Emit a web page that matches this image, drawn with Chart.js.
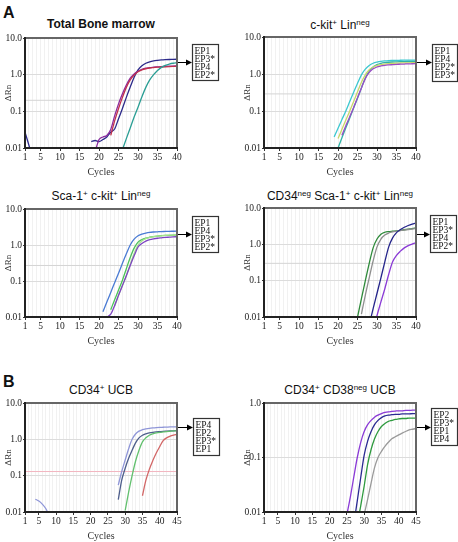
<!DOCTYPE html>
<html>
<head>
<meta charset="utf-8">
<script src="https://cdn.jsdelivr.net/npm/chart.js@4.4.0/dist/chart.umd.min.js"></script>
<style>
  body { margin: 0; background: #fff; }
  #wrap { position: relative; width: 458px; height: 542px; overflow: hidden; font-family: "Liberation Sans", Arial, sans-serif; color: #111; }
  canvas { position: absolute; }
  .ttl { position: absolute; font-size: 12px; line-height: 1; white-space: nowrap; transform: translateX(-50%); }
  .ttl sup { font-size: 8px; vertical-align: 4px; line-height: 0; }
  .lbl { position: absolute; font-size: 16px; font-weight: bold; line-height: 1; }
</style>
</head>
<body>
<div id="wrap">
  <div class="lbl" style="left:3px;top:5px">A</div>
  <div class="lbl" style="left:3px;top:374px">B</div>

  <div class="ttl" style="left:101px;top:18px;font-weight:bold">Total Bone marrow</div>
  <div class="ttl" style="left:340px;top:19px">c-kit<sup>+</sup> Lin<sup>neg</sup></div>
  <div class="ttl" style="left:101px;top:190px">Sca-1<sup>+</sup> c-kit<sup>+</sup> Lin<sup>neg</sup></div>
  <div class="ttl" style="left:340px;top:190px">CD34<sup>neg</sup> Sca-1<sup>+</sup> c-kit<sup>+</sup> Lin<sup>neg</sup></div>
  <div class="ttl" style="left:101px;top:384px">CD34<sup>+</sup> UCB</div>
  <div class="ttl" style="left:340px;top:384px">CD34<sup>+</sup> CD38<sup>neg</sup> UCB</div>

  <canvas id="cBm"  width="229" height="151" style="left:0;top:30px"></canvas>
  <canvas id="cCk"  width="229" height="152" style="left:229px;top:29px"></canvas>
  <canvas id="cSk"  width="229" height="149" style="left:0;top:201px"></canvas>
  <canvas id="cCd"  width="229" height="150" style="left:229px;top:200px"></canvas>
  <canvas id="cUcb" width="229" height="150" style="left:0;top:395px"></canvas>
  <canvas id="cC38" width="229" height="150" style="left:229px;top:395px"></canvas>
</div>

<script>
// tick labels
const xTicks40 = [1, 5, 10, 15, 20, 25, 30, 35, 40];
const xTicks45 = [1, 5, 10, 15, 20, 25, 30, 35, 40, 45];
const yTicks4 = [0.01, 0.1, 1, 10];
const yLabels4 = ['0.01', '0.1', '1.0', '10.0'];
const yTicks3 = [0.01, 0.1, 1];
const yLabels3 = ['0.01', '0.1', '1.0'];

// Total bone marrow  (first cycle of each curve, then ΔRn per cycle)
const bmLegend = ['EP1', 'EP3*', 'EP4', 'EP2*'];
const bmNavyEarly = [0.027, 0.012, 0.005];
const bmNavy = [0.015, 0.016, 0.015, 0.017, 0.02, 0.027, 0.033, 0.063, 0.12, 0.24, 0.46, 0.85, 1.35, 1.75, 2.05, 2.25, 2.38, 2.46, 2.52, 2.56, 2.59, 2.61, 2.63];
const bmPurple = [0.008, 0.017, 0.02, 0.022, 0.032, 0.075, 0.16, 0.3, 0.52, 0.8, 1.05, 1.25, 1.4, 1.5, 1.55, 1.6, 1.63, 1.66, 1.68, 1.7, 1.72, 1.74];
const bmRed = [0.022, 0.055, 0.12, 0.24, 0.45, 0.72, 0.98, 1.2, 1.35, 1.45, 1.52, 1.56, 1.6, 1.62, 1.64, 1.66, 1.68, 1.7];
const bmTeal = [0.009, 0.018, 0.035, 0.07, 0.13, 0.25, 0.45, 0.72, 1.0, 1.3, 1.58, 1.8, 1.95, 2.05, 2.1];
const bmStarts = { navyEarly: 1, navy: 18, purple: 19, red: 23, teal: 26 };
const bmThreshold = 0.2;

// c-kit+ Lin-neg
const ckLegend = ['EP1', 'EP4', 'EP2*', 'EP3*'];
const ckCyan = [0.02, 0.034, 0.059, 0.1, 0.18, 0.32, 0.56, 0.95, 1.35, 1.7, 1.95, 2.1, 2.2, 2.26, 2.3, 2.32, 2.34, 2.35, 2.36, 2.37, 2.38, 2.38];
const ckTeal = [0.005, 0.01, 0.019, 0.035, 0.065, 0.12, 0.22, 0.42, 0.78, 1.2, 1.55, 1.8, 1.95, 2.03, 2.08, 2.11, 2.13, 2.15, 2.17, 2.18, 2.19, 2.2];
const ckYellow = [0.018, 0.032, 0.057, 0.1, 0.18, 0.33, 0.6, 0.95, 1.3, 1.55, 1.7, 1.8, 1.86, 1.9, 1.93, 1.96, 1.98, 2.0, 2.01, 2.02, 2.03];
const ckPurple = [0.022, 0.04, 0.07, 0.125, 0.23, 0.42, 0.75, 1.1, 1.38, 1.55, 1.65, 1.72, 1.76, 1.79, 1.82, 1.84, 1.86, 1.88, 1.89, 1.9];
const ckStarts = { cyan: 19, teal: 19, yellow: 20, purple: 21 };
const ckThreshold = 0.29;

// Sca-1+ c-kit+ Lin-neg
const skLegend = ['EP1', 'EP4', 'EP3*', 'EP2*'];
const skBlue = [0.014, 0.026, 0.048, 0.09, 0.165, 0.31, 0.57, 1.0, 1.45, 1.8, 2.0, 2.15, 2.25, 2.3, 2.33, 2.36, 2.38, 2.4, 2.41, 2.42];
const skGreen = [0.016, 0.03, 0.056, 0.105, 0.22, 0.45, 0.82, 1.2, 1.42, 1.56, 1.65, 1.72, 1.77, 1.81, 1.84, 1.86, 1.88, 1.9];
const skLight = [0.02, 0.04, 0.075, 0.14, 0.29, 0.58, 1.0, 1.3, 1.5, 1.62, 1.7, 1.76, 1.8, 1.84, 1.87, 1.89, 1.91];
const skPurple = [0.01, 0.012, 0.021, 0.04, 0.075, 0.14, 0.27, 0.5, 0.88, 1.1, 1.28, 1.4, 1.48, 1.54, 1.58, 1.62, 1.65, 1.68, 1.7];
const skStarts = { blue: 21, green: 23, light: 24, purple: 22 };
const skThreshold = 0.27;

// CD34-neg Sca-1+ c-kit+ Lin-neg
const cdLegend = ['EP1', 'EP3*', 'EP4', 'EP2*'];
const cdGreen = [0.01, 0.032, 0.1, 0.3, 0.8, 1.4, 1.9, 2.15, 2.25, 2.3, 2.35, 2.42, 2.52, 2.62, 2.72, 2.85];
const cdGray = [0.012, 0.04, 0.12, 0.35, 0.85, 1.4, 1.8, 2.05, 2.2, 2.3, 2.4, 2.48, 2.56, 2.64, 2.72];
const cdNavy = [0.006, 0.017, 0.045, 0.12, 0.33, 0.85, 1.5, 2.1, 2.55, 2.95, 3.3, 3.6, 3.85];
const cdPurple = [0.004, 0.011, 0.026, 0.06, 0.15, 0.33, 0.5, 0.65, 0.8, 0.92, 1.02, 1.1];
const cdStarts = { green: 25, gray: 26, navy: 28, purple: 29 };
const cdThreshold = 0.3;

// CD34+ UCB
const ucbLegend = ['EP4', 'EP2', 'EP3*', 'EP1'];
const ucbLavEarly = [0.0225, 0.02, 0.0165, 0.0125, 0.008];
const ucbLav = [0.055, 0.13, 0.27, 0.55, 1.0, 1.4, 1.68, 1.84, 1.94, 2.01, 2.06, 2.1, 2.13, 2.15, 2.17, 2.19, 2.2, 2.21];
const ucbSlate = [0.022, 0.075, 0.16, 0.3, 0.5, 0.8, 1.1, 1.3, 1.42, 1.5, 1.56, 1.6, 1.63, 1.66, 1.68, 1.7, 1.72, 1.73];
const ucbGreen = [0.011, 0.035, 0.1, 0.25, 0.5, 0.85, 1.1, 1.3, 1.42, 1.5, 1.56, 1.6, 1.64, 1.67, 1.7, 1.72];
const ucbRed = [0.028, 0.075, 0.15, 0.26, 0.42, 0.63, 0.92, 1.1, 1.22, 1.31, 1.38];
const ucbStarts = { lavEarly: 4, lav: 28, slate: 28, green: 30, red: 35 };
const ucbThreshold = 0.13;

// CD34+ CD38-neg UCB
const c38Legend = ['EP2', 'EP3*', 'EP1', 'EP4'];
const c38Purple = [0.009, 0.019, 0.044, 0.1, 0.19, 0.3, 0.4, 0.48, 0.55, 0.6, 0.64, 0.67, 0.69, 0.7, 0.71, 0.72, 0.72, 0.73, 0.73, 0.74, 0.74];
const c38Navy = [0.006, 0.016, 0.043, 0.11, 0.2, 0.3, 0.4, 0.48, 0.54, 0.58, 0.6, 0.61, 0.62, 0.62, 0.63, 0.63, 0.63, 0.64, 0.64];
const c38Green = [0.006, 0.013, 0.03, 0.075, 0.14, 0.22, 0.3, 0.37, 0.42, 0.46, 0.48, 0.5, 0.51, 0.52, 0.52, 0.53, 0.53, 0.53];
const c38Gray = [0.009, 0.017, 0.034, 0.065, 0.1, 0.13, 0.16, 0.19, 0.22, 0.24, 0.26, 0.28, 0.3, 0.32, 0.33, 0.34];
const c38Starts = { purple: 25, navy: 27, green: 28, gray: 30 };


const curve = (start, values, color) => ({
    data: values.map((v, i) => ({ x: start + i, y: v })),
    borderColor: color,
    borderWidth: 1.3,
    pointRadius: 0,
    cubicInterpolationMode: 'monotone',
    fill: false
});

const threshold = (value, xMax, color) => ({
    data: [{ x: 1, y: value }, { x: xMax, y: value }],
    borderColor: color,
    borderWidth: 1,
    pointRadius: 0,
    order: 10
});

// frame round the plot + the EP box with its arrow
const framePlugin = {
    id: 'frame',
    afterDatasetsDraw(chart, args, opts) {
        const { ctx, chartArea: a } = chart;
        ctx.save();
        ctx.lineWidth = 2;
        ctx.strokeStyle = '#666';
        ctx.strokeRect(a.left, a.top, a.right - a.left, a.bottom - a.top);
        ctx.strokeStyle = '#222';
        ctx.beginPath();
        ctx.moveTo(a.left, a.top - 1);
        ctx.lineTo(a.left, a.bottom);
        ctx.lineTo(a.right + 1, a.bottom);
        ctx.stroke();

        const bx = Math.round(a.right + opts.dx), by = Math.round(a.top + opts.dy);
        ctx.lineWidth = 1.2;
        ctx.strokeStyle = '#333';
        ctx.strokeRect(bx + 0.5, by + 0.5, opts.w, opts.h);
        ctx.fillStyle = '#111';
        ctx.font = '9.5px "Liberation Serif"';
        opts.labels.forEach((t, i) => ctx.fillText(t, bx + 2.5, by + 10 + i * 8));

        const ay = Math.round(a.top + opts.ay) + 0.5;
        ctx.lineWidth = 1;
        ctx.strokeStyle = '#000';
        ctx.beginPath();
        ctx.moveTo(a.right + 1, ay);
        ctx.lineTo(bx - 4, ay);
        ctx.stroke();
        ctx.fillStyle = '#000';
        ctx.beginPath();
        ctx.moveTo(bx, ay);
        ctx.lineTo(bx - 6, ay - 3);
        ctx.lineTo(bx - 6, ay + 3);
        ctx.closePath();
        ctx.fill();
        ctx.restore();
    }
};

const makeChart = (id, cfg) => {
    const xMax = cfg.xTicks[cfg.xTicks.length - 1];
    const yMin = cfg.yTicks[0], yMax = cfg.yTicks[cfg.yTicks.length - 1];
    const everyCycle = [];
    for (let c = 1; c <= xMax; c++) everyCycle.push(c);

    new Chart(document.getElementById(id), {
        type: 'line',
        data: { datasets: cfg.datasets },
        options: {
            responsive: false,
            animation: false,
            events: [],
            layout: { padding: { left: cfg.padLeft, right: cfg.padRight, top: 8, bottom: 0 } },
            plugins: {
                legend: { display: false },
                tooltip: { enabled: false },
                frame: cfg.frame
            },
            scales: {
                x: {
                    type: 'linear',
                    min: 1,
                    max: xMax,
                    afterBuildTicks: s => { s.ticks = everyCycle.map(v => ({ value: v })); },
                    afterFit: s => { s.height = 33; },
                    ticks: {
                        autoSkip: false,
                        maxRotation: 0,
                        padding: 1,
                        color: '#222',
                        font: { family: 'Liberation Serif', size: 9.5 },
                        callback: v => cfg.xTicks.includes(v) ? String(v) : ''
                    },
                    grid: {
                        color: '#f1f1f1',
                        tickLength: 3,
                        tickColor: c => cfg.xTicks.includes(c.tick.value) ? '#333' : 'rgba(0,0,0,0)'
                    },
                    border: { display: false },
                    title: {
                        display: true,
                        text: 'Cycles',
                        color: '#333',
                        font: { family: 'Liberation Serif', size: 10 },
                        padding: { top: 0, bottom: 3 }
                    }
                },
                y: {
                    type: 'logarithmic',
                    min: yMin,
                    max: yMax,
                    afterBuildTicks: s => { s.ticks = cfg.yTicks.map(v => ({ value: v })); },
                    afterFit: s => { s.width = 25; },
                    ticks: {
                        padding: 1,
                        color: '#222',
                        font: { family: 'Liberation Serif', size: 9.5 },
                        callback: (v, i) => cfg.yLabels[i]
                    },
                    grid: {
                        color: c => (c.tick.value > yMin && c.tick.value < yMax) ? '#dcdcdc' : 'rgba(0,0,0,0)',
                        tickLength: 2,
                        tickColor: '#333'
                    },
                    border: { display: false },
                    title: {
                        display: true,
                        text: 'ΔRn',
                        color: '#333',
                        font: { family: 'Liberation Serif', size: 9 },
                        padding: { top: 3, bottom: 0 }
                    }
                }
            }
        },
        plugins: [framePlugin]
    });
};

makeChart('cBm', {
    xTicks: xTicks40, yTicks: yTicks4, yLabels: yLabels4, padLeft: 0, padRight: 52,
    frame: { labels: bmLegend, dx: 15, dy: 6, w: 26, h: 36, ay: 24 },
    datasets: [
        threshold(bmThreshold, 40, '#d4d4d4'),
        curve(bmStarts.navyEarly, bmNavyEarly, '#2c2a8a'),
        curve(bmStarts.teal, bmTeal, '#2a9e94'),
        curve(bmStarts.red, bmRed, '#c0304c'),
        curve(bmStarts.purple, bmPurple, '#8a2c9e'),
        curve(bmStarts.navy, bmNavy, '#2c2a8a')
    ]
});

makeChart('cCk', {
    xTicks: xTicks40, yTicks: yTicks4, yLabels: yLabels4, padLeft: 10, padRight: 42,
    frame: { labels: ckLegend, dx: 16, dy: 7, w: 25, h: 37, ay: 25 },
    datasets: [
        threshold(ckThreshold, 40, '#d4d4d4'),
        curve(ckStarts.purple, ckPurple, '#9a4cc4'),
        curve(ckStarts.yellow, ckYellow, '#c9d66a'),
        curve(ckStarts.teal, ckTeal, '#2fb3a6'),
        curve(ckStarts.cyan, ckCyan, '#3cc8d0')
    ]
});

makeChart('cSk', {
    xTicks: xTicks40, yTicks: yTicks4, yLabels: yLabels4, padLeft: 0, padRight: 52,
    frame: { labels: skLegend, dx: 15, dy: 7, w: 26, h: 36, ay: 25 },
    datasets: [
        threshold(skThreshold, 40, '#d4d4d4'),
        curve(skStarts.purple, skPurple, '#7e44c2'),
        curve(skStarts.light, skLight, '#a6e28e'),
        curve(skStarts.green, skGreen, '#4cc25a'),
        curve(skStarts.blue, skBlue, '#4a7bd4')
    ]
});

makeChart('cCd', {
    xTicks: xTicks40, yTicks: yTicks4, yLabels: yLabels4, padLeft: 10, padRight: 42,
    frame: { labels: cdLegend, dx: 14, dy: 7, w: 26, h: 37, ay: 26 },
    datasets: [
        threshold(cdThreshold, 40, '#d4d4d4'),
        curve(cdStarts.purple, cdPurple, '#8a3ad6'),
        curve(cdStarts.navy, cdNavy, '#24248a'),
        curve(cdStarts.gray, cdGray, '#8e8e8e'),
        curve(cdStarts.green, cdGreen, '#2e8a3a')
    ]
});

makeChart('cUcb', {
    xTicks: xTicks45, yTicks: yTicks4, yLabels: yLabels4, padLeft: 0, padRight: 52,
    frame: { labels: ucbLegend, dx: 16, dy: 15, w: 26, h: 37, ay: 24 },
    datasets: [
        threshold(ucbThreshold, 45, '#f2b6c0'),
        curve(ucbStarts.lavEarly, ucbLavEarly, '#8f96d8'),
        curve(ucbStarts.red, ucbRed, '#d26666'),
        curve(ucbStarts.green, ucbGreen, '#62c06e'),
        curve(ucbStarts.slate, ucbSlate, '#4e5e8c'),
        curve(ucbStarts.lav, ucbLav, '#8f96d8')
    ]
});

makeChart('cC38', {
    xTicks: xTicks45, yTicks: yTicks3, yLabels: yLabels3, padLeft: 10, padRight: 42,
    frame: { labels: c38Legend, dx: 15, dy: 5, w: 26, h: 37, ay: 24 },
    datasets: [
        curve(c38Starts.gray, c38Gray, '#9a9a9a'),
        curve(c38Starts.green, c38Green, '#2e9a3e'),
        curve(c38Starts.navy, c38Navy, '#2a2a92'),
        curve(c38Starts.purple, c38Purple, '#8a3ad6')
    ]
});
</script>
</body>
</html>
